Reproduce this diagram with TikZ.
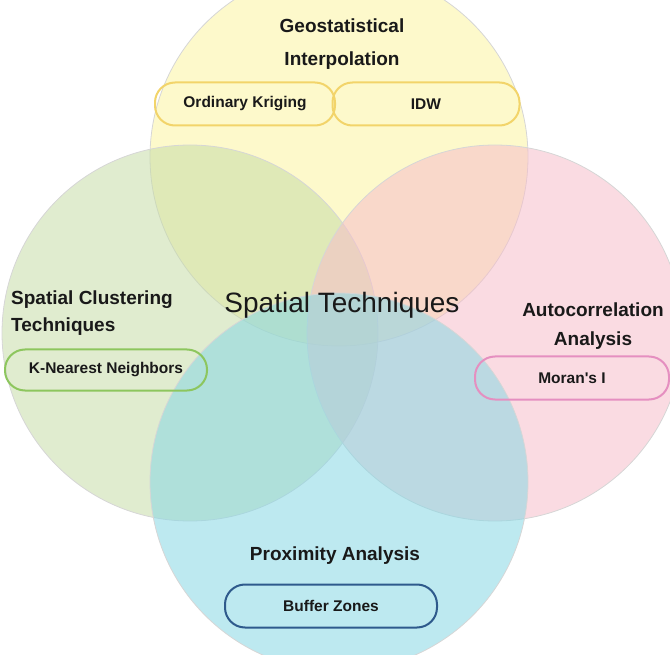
\documentclass[tikz,border=0pt]{standalone}
\usepackage{fontspec}
\setmainfont{Liberation Sans}
\definecolor{geoFill}{RGB}{252,244,160}
\definecolor{clusFill}{RGB}{199,220,168}
\definecolor{autoFill}{RGB}{246,190,202}
\definecolor{proxFill}{RGB}{135,215,228}
\definecolor{geoLine}{RGB}{242,212,106}
\definecolor{clusLine}{RGB}{141,198,94}
\definecolor{autoLine}{RGB}{229,143,192}
\definecolor{proxLine}{RGB}{46,90,140}
\begin{document}
\begin{tikzpicture}[x=1pt,y=-1pt,
  venn/.style={draw=black!16, line width=0.8pt, fill opacity=0.55},
  heading/.style={font=\bfseries\fontsize{19}{22}\selectfont, text=black!90, inner sep=0pt, anchor=base},
  pill/.style={draw, line width=2pt, rounded corners=20pt, minimum height=43pt, inner sep=0pt,
    font=\bfseries\fontsize{15.5}{17}\selectfont, text=black!90},
]
\useasboundingbox (0,0) rectangle (670,655);
\clip (0,0) rectangle (670,655);

% the four overlapping sets
\filldraw[venn, fill=geoFill]  (339,157) circle (189);
\filldraw[venn, fill=clusFill] (190,333) circle (188);
\filldraw[venn, fill=autoFill] (495,333) circle (188);
\filldraw[venn, fill=proxFill] (339,482) circle (189);

% set headings
\node[heading] (geoA) at (342,33) {Geostatistical};
\node[heading] (geoB) at (342,66) {Interpolation};
\node[heading, anchor=base west] (clusA) at (11,305) {Spatial Clustering};
\node[heading, anchor=base west] (clusB) at (11,332) {Techniques};
\node[heading] (autoA) at (593,317) {Autocorrelation};
\node[heading] (autoB) at (593,345) {Analysis};
\node[heading] (prox) at (335,560) {Proximity Analysis};

% centre label
\node[font=\fontsize{28}{32}\selectfont, text=black!90, inner sep=0pt, anchor=base] (core) at (342,313) {Spatial Techniques};

% method pills
\node[pill, draw=geoLine,  minimum width=180pt] (krig)   at (245,104) {Ordinary Kriging};
\node[pill, draw=geoLine,  minimum width=187pt] (idw)    at (426,104) {IDW};
\node[pill, draw=clusLine, minimum width=202pt, minimum height=41pt] (knn) at (106,370) {K-Nearest Neighbors};
\node[pill, draw=autoLine, minimum width=194pt] (moran)  at (572,378) {Moran\textquotesingle s I};
\node[pill, draw=proxLine, minimum width=212pt] (buffer) at (331,606) {Buffer Zones};
\end{tikzpicture}
\end{document}
